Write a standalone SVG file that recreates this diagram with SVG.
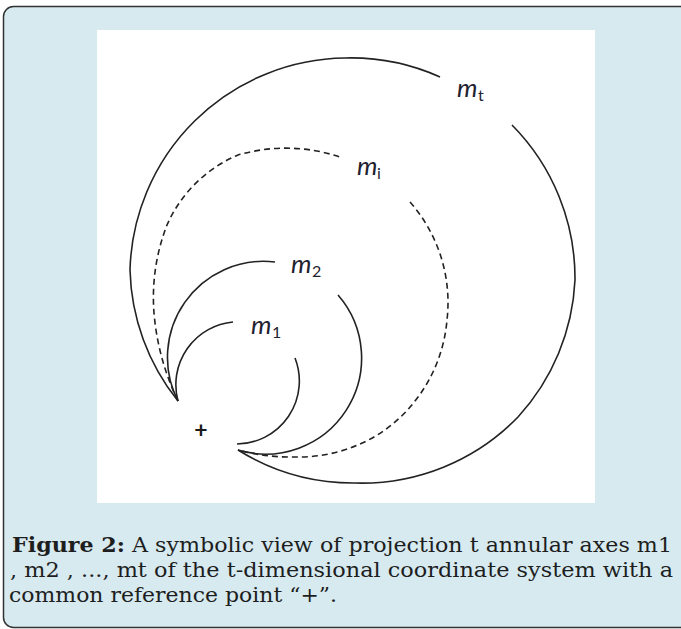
<svg xmlns="http://www.w3.org/2000/svg" width="681" height="629" viewBox="0 0 681 629">
<style>
.axis{fill:none;stroke:#222;stroke-width:1.6;stroke-linecap:butt}
.dash{stroke-dasharray:6 4}
.lbl{font-family:Lato,"Liberation Sans",sans-serif;font-style:italic;font-size:26px;fill:#1f2230}
.sub{font-style:normal;font-size:16px}
.cap{font-family:"DejaVu Serif","Liberation Serif",serif;font-size:21.3px;fill:#1e1e1e}
</style>
<rect x="0" y="0" width="681" height="629" fill="#ffffff"/>
<rect id="frame" x="3.5" y="6.5" width="700" height="621" rx="10" ry="10" fill="#d6eaf0" stroke="#333" stroke-width="1.5"/>
<rect id="figure" x="97" y="30" width="498" height="473" fill="#ffffff"/>
<g id="connectors">
<g id="axis-mt">
<path class="axis" d="M178,401 A218,218 0 0 1 130,270 A218,218 0 0 1 345,58 A218,218 0 0 1 440,77 M512,125 A218,218 0 0 1 575,280 A218,218 0 0 1 518,417 A218,218 0 0 1 355,483 A218,218 0 0 1 238,450"/>
</g>
<g id="axis-mi">
<path class="axis dash" d="M178,401 A250,250 0 0 1 154,313 A200,200 0 0 1 167,225 A135,135 0 0 1 238,155 A170,170 0 0 1 340,157 M410,202 A152,152 0 0 1 447,320 A152,152 0 0 1 385,430 A152,152 0 0 1 295,457 A200,200 0 0 1 238,450"/>
</g>
<g id="axis-m2">
<path class="axis" d="M178,401 A96,96 0 0 1 275,262 M338,295 A96,96 0 0 1 238,450"/>
</g>
<g id="axis-m1">
<path class="axis" d="M178,401 A63,63 0 0 1 233,322 M295,358 A63,63 0 0 1 237,444"/>
</g>
</g>
<g id="label-mt"><text class="lbl" x="457" y="97">m<tspan class="sub" x="478" y="101">t</tspan></text></g>
<g id="label-mi"><text class="lbl" x="357" y="175">m<tspan class="sub" x="377" y="179">i</tspan></text></g>
<g id="label-m2"><text class="lbl" x="291" y="273">m<tspan class="sub" x="312" y="277">2</tspan></text></g>
<g id="label-m1"><text class="lbl" x="251" y="334">m<tspan class="sub" x="272" y="338">1</tspan></text></g>
<g id="reference-point"><text x="201" y="438" text-anchor="middle" font-family="Lato, 'Liberation Sans', sans-serif" font-size="23" font-weight="bold" fill="#1a1a1a">+</text></g>
<g id="caption">
<text class="cap" x="12" y="552" font-weight="bold" textLength="113" lengthAdjust="spacingAndGlyphs">Figure 2:</text>
<text class="cap" x="132" y="552" textLength="540" lengthAdjust="spacingAndGlyphs">A symbolic view of projection t annular axes m1</text>
<text class="cap" x="10" y="577" textLength="663" lengthAdjust="spacingAndGlyphs">, m2 , ..., mt of the t-dimensional coordinate system with a</text>
<text class="cap" x="9" y="602" textLength="328" lengthAdjust="spacingAndGlyphs">common reference point “+”.</text>
</g>
</svg>
